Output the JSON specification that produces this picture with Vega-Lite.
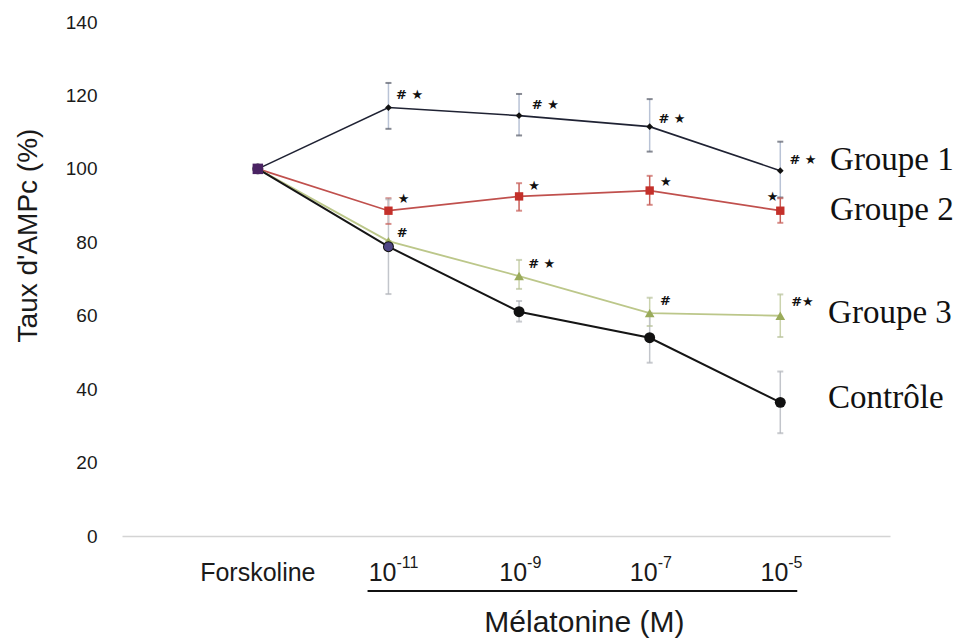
{
  "$schema": "https://vega.github.io/schema/vega-lite/v6.json",
  "width": 768,
  "height": 514,
  "autosize": {"type": "none"},
  "padding": {"left": 122, "top": 22, "right": 68, "bottom": 103},
  "background": "white",
  "config": {"view": {"stroke": null}, "font": "Liberation Sans"},
  "datasets": {
    "pts": [
      {"series": "Groupe 1", "pos": 1, "v": 100, "lo": 100, "hi": 100},
      {"series": "Groupe 1", "pos": 2, "v": 116.7, "lo": 110.9, "hi": 123.4},
      {"series": "Groupe 1", "pos": 3, "v": 114.5, "lo": 109.1, "hi": 120.4},
      {"series": "Groupe 1", "pos": 4, "v": 111.5, "lo": 104.7, "hi": 119.0},
      {"series": "Groupe 1", "pos": 5, "v": 99.5, "lo": 92.2, "hi": 107.4},
      {"series": "Groupe 2", "pos": 1, "v": 100, "lo": 100, "hi": 100},
      {"series": "Groupe 2", "pos": 2, "v": 88.6, "lo": 85.0, "hi": 92.0},
      {"series": "Groupe 2", "pos": 3, "v": 92.5, "lo": 88.6, "hi": 96.1},
      {"series": "Groupe 2", "pos": 4, "v": 94.1, "lo": 90.2, "hi": 98.1},
      {"series": "Groupe 2", "pos": 5, "v": 88.6, "lo": 85.3, "hi": 92.0},
      {"series": "Groupe 3", "pos": 1, "v": 100, "lo": 100, "hi": 100},
      {"series": "Groupe 3", "pos": 2, "v": 80.3, "lo": 80.3, "hi": 80.3},
      {"series": "Groupe 3", "pos": 3, "v": 70.8, "lo": 67.3, "hi": 75.2},
      {"series": "Groupe 3", "pos": 4, "v": 60.7, "lo": 57.2, "hi": 64.9},
      {"series": "Groupe 3", "pos": 5, "v": 60.0, "lo": 54.2, "hi": 65.8},
      {"series": "Contrôle", "pos": 1, "v": 100, "lo": 100, "hi": 100},
      {"series": "Contrôle", "pos": 2, "v": 78.8, "lo": 65.9, "hi": 91.7},
      {"series": "Contrôle", "pos": 3, "v": 61.1, "lo": 58.4, "hi": 64.0},
      {"series": "Contrôle", "pos": 4, "v": 54.0, "lo": 47.2, "hi": 60.8},
      {"series": "Contrôle", "pos": 5, "v": 36.4, "lo": 28.0, "hi": 44.8}
    ],
    "notes": [
      {"pos": 2.058, "v": 120.2, "txt": "# ★"},
      {"pos": 3.098, "v": 117.4, "txt": "# ★"},
      {"pos": 4.067, "v": 113.5, "txt": "# ★"},
      {"pos": 5.07, "v": 102.3, "txt": "# ★"},
      {"pos": 2.071, "v": 91.8, "txt": "★"},
      {"pos": 3.07, "v": 95.2, "txt": "★"},
      {"pos": 4.08, "v": 96.5, "txt": "★"},
      {"pos": 4.897, "v": 92.4, "txt": "★"},
      {"pos": 2.064, "v": 82.6, "txt": "#"},
      {"pos": 3.07, "v": 74.0, "txt": "# ★"},
      {"pos": 4.08, "v": 64.0, "txt": "#"},
      {"pos": 5.083, "v": 63.6, "txt": "#★"}
    ],
    "names": [
      {"pos": 5.381, "v": 102.5, "txt": "Groupe 1"},
      {"pos": 5.381, "v": 88.8, "txt": "Groupe 2"},
      {"pos": 5.366, "v": 60.8, "txt": "Groupe 3"},
      {"pos": 5.366, "v": 37.6, "txt": "Contrôle"}
    ],
    "xlab": [
      {"pos": 1, "base": "Forskoline", "exp": ""},
      {"pos": 2, "base": "10", "exp": "-11"},
      {"pos": 3, "base": "10", "exp": "-9"},
      {"pos": 4, "base": "10", "exp": "-7"},
      {"pos": 5, "base": "10", "exp": "-5"}
    ],
    "bracket": [
      {"x1": 1.84, "x2": 5.13, "y": -15, "txt": "Mélatonine (M)", "xm": 3.5, "ym": -23.6}
    ]
  },
  "layer": [
    {
      "data": {"name": "pts"},
      "mark": {"type": "rule", "strokeWidth": 1.5},
      "encoding": {
        "x": {"field": "pos", "type": "quantitative", "scale": {"domain": [-0.04, 5.84], "nice": false, "zero": false},
          "axis": {"values": [1, 2, 3, 4, 5], "labels": false,
            "title": null, "grid": false, "ticks": false, "domainColor": "#d4d4d4", "domainWidth": 1.5}},
        "y": {"field": "lo", "type": "quantitative", "scale": {"domain": [0, 140], "nice": false},
          "axis": {"values": [0, 20, 40, 60, 80, 100, 120, 140], "grid": false, "ticks": false, "domain": false,
            "labelFontSize": 19, "labelColor": "#1a1a1a", "labelPadding": 25, "labelFont": "Liberation Sans",
            "title": "Taux d'AMPc (%)", "titleFontSize": 28, "titleFontWeight": "normal", "titleColor": "#1a1a1a",
            "titleFont": "Liberation Sans", "titleX": -94, "titleY": 213, "titleAngle": -90, "titleBaseline": "middle", "titleAlign": "center"}},
        "y2": {"field": "hi"},
        "color": {"field": "series", "type": "nominal", "legend": null,
          "scale": {"domain": ["Groupe 1", "Groupe 2", "Groupe 3", "Contrôle"], "range": ["#b9c3d6", "#c8605a", "#cbd3ae", "#c2c5cb"]}}
      }
    },
    {
      "data": {"name": "pts"},
      "mark": {"type": "tick", "orient": "horizontal", "size": 6, "thickness": 2},
      "encoding": {
        "x": {"field": "pos", "type": "quantitative"},
        "y": {"field": "lo", "type": "quantitative"},
        "color": {"field": "series", "type": "nominal", "legend": null,
          "scale": {"domain": ["Groupe 1", "Groupe 2", "Groupe 3", "Contrôle"], "range": ["#555a66", "#c8605a", "#b8c29a", "#b2b5bb"]}}
      }
    },
    {
      "data": {"name": "pts"},
      "mark": {"type": "tick", "orient": "horizontal", "size": 6, "thickness": 2},
      "encoding": {
        "x": {"field": "pos", "type": "quantitative"},
        "y": {"field": "hi", "type": "quantitative"},
        "color": {"field": "series", "type": "nominal", "legend": null,
          "scale": {"domain": ["Groupe 1", "Groupe 2", "Groupe 3", "Contrôle"], "range": ["#555a66", "#c8605a", "#b8c29a", "#b2b5bb"]}}
      }
    },
    {
      "data": {"name": "pts"},
      "mark": {"type": "line"},
      "encoding": {
        "x": {"field": "pos", "type": "quantitative"},
        "y": {"field": "v", "type": "quantitative"},
        "detail": {"field": "series"},
        "color": {"field": "series", "type": "nominal", "legend": null,
          "scale": {"domain": ["Groupe 1", "Groupe 2", "Groupe 3", "Contrôle"], "range": ["#1f2233", "#c0504d", "#bcc78a", "#151515"]}},
        "strokeWidth": {"field": "series", "type": "nominal", "legend": null,
          "scale": {"domain": ["Groupe 1", "Groupe 2", "Groupe 3", "Contrôle"], "range": [1.6, 2, 2.8, 1.6]}}
      }
    },
    {
      "data": {"name": "pts"},
      "mark": {"type": "point", "filled": true, "opacity": 1},
      "encoding": {
        "x": {"field": "pos", "type": "quantitative"},
        "y": {"field": "v", "type": "quantitative"},
        "color": {"field": "series", "type": "nominal", "legend": null,
          "scale": {"domain": ["Groupe 1", "Groupe 2", "Groupe 3", "Contrôle"], "range": ["#111111", "#c4302a", "#9aab5a", "#111111"]}},
        "shape": {"field": "series", "type": "nominal", "legend": null,
          "scale": {"domain": ["Groupe 1", "Groupe 2", "Groupe 3", "Contrôle"], "range": ["diamond", "square", "triangle-up", "circle"]}},
        "size": {"field": "series", "type": "nominal", "legend": null,
          "scale": {"domain": ["Groupe 1", "Groupe 2", "Groupe 3", "Contrôle"], "range": [45, 120, 40, 80]}}
      }
    },
    {
      "data": {"name": "pts"},
      "transform": [{"filter": "datum.pos == 2 && datum.series == 'Contrôle'"}],
      "mark": {"type": "point", "shape": "circle", "filled": true, "size": 80, "color": "#4f4685", "opacity": 1},
      "encoding": {
        "x": {"field": "pos", "type": "quantitative"},
        "y": {"field": "v", "type": "quantitative"}
      }
    },
    {
      "data": {"name": "pts"},
      "transform": [{"filter": "datum.pos == 1 && datum.series == 'Contrôle'"}],
      "mark": {"type": "point", "shape": "square", "filled": true, "size": 110, "color": "#4a2363", "opacity": 1},
      "encoding": {
        "x": {"field": "pos", "type": "quantitative"},
        "y": {"field": "v", "type": "quantitative"}
      }
    },
    {
      "data": {"name": "notes"},
      "mark": {"type": "text", "align": "left", "baseline": "middle", "font": "DejaVu Sans", "fontWeight": "bold", "fontSize": 13, "color": "#111111"},
      "encoding": {
        "x": {"field": "pos", "type": "quantitative"},
        "y": {"field": "v", "type": "quantitative"},
        "text": {"field": "txt"}
      }
    },
    {
      "data": {"name": "names"},
      "mark": {"type": "text", "align": "left", "baseline": "middle", "font": "Liberation Serif", "fontSize": 33, "color": "#111111"},
      "encoding": {
        "x": {"field": "pos", "type": "quantitative"},
        "y": {"field": "v", "type": "quantitative"},
        "text": {"field": "txt"}
      }
    },
    {
      "data": {"name": "xlab"},
      "transform": [{"filter": "datum.pos == 1"}],
      "mark": {"type": "text", "align": "center", "baseline": "middle", "font": "Liberation Sans", "fontSize": 25, "color": "#1a1a1a"},
      "encoding": {
        "x": {"field": "pos", "type": "quantitative"},
        "y": {"datum": -10},
        "text": {"field": "base"}
      }
    },
    {
      "data": {"name": "xlab"},
      "transform": [{"filter": "datum.pos > 1"}],
      "mark": {"type": "text", "align": "right", "baseline": "middle", "dx": 8, "font": "Liberation Sans", "fontSize": 25, "color": "#1a1a1a"},
      "encoding": {
        "x": {"field": "pos", "type": "quantitative"},
        "y": {"datum": -10},
        "text": {"field": "base"}
      }
    },
    {
      "data": {"name": "xlab"},
      "transform": [{"filter": "datum.pos > 1"}],
      "mark": {"type": "text", "align": "left", "baseline": "middle", "dx": 8, "dy": -10, "font": "Liberation Sans", "fontSize": 16, "color": "#1a1a1a"},
      "encoding": {
        "x": {"field": "pos", "type": "quantitative"},
        "y": {"datum": -10},
        "text": {"field": "exp"}
      }
    },
    {
      "data": {"name": "bracket"},
      "mark": {"type": "rule", "strokeWidth": 2, "color": "#111111"},
      "encoding": {
        "x": {"field": "x1", "type": "quantitative"},
        "x2": {"field": "x2"},
        "y": {"field": "y", "type": "quantitative"}
      }
    },
    {
      "data": {"name": "bracket"},
      "mark": {"type": "text", "align": "center", "baseline": "middle", "font": "Liberation Sans", "fontSize": 30, "color": "#1a1a1a"},
      "encoding": {
        "x": {"field": "xm", "type": "quantitative"},
        "y": {"field": "ym", "type": "quantitative"},
        "text": {"field": "txt"}
      }
    }
  ],
  "resolve": {"scale": {"color": "independent"}}
}
